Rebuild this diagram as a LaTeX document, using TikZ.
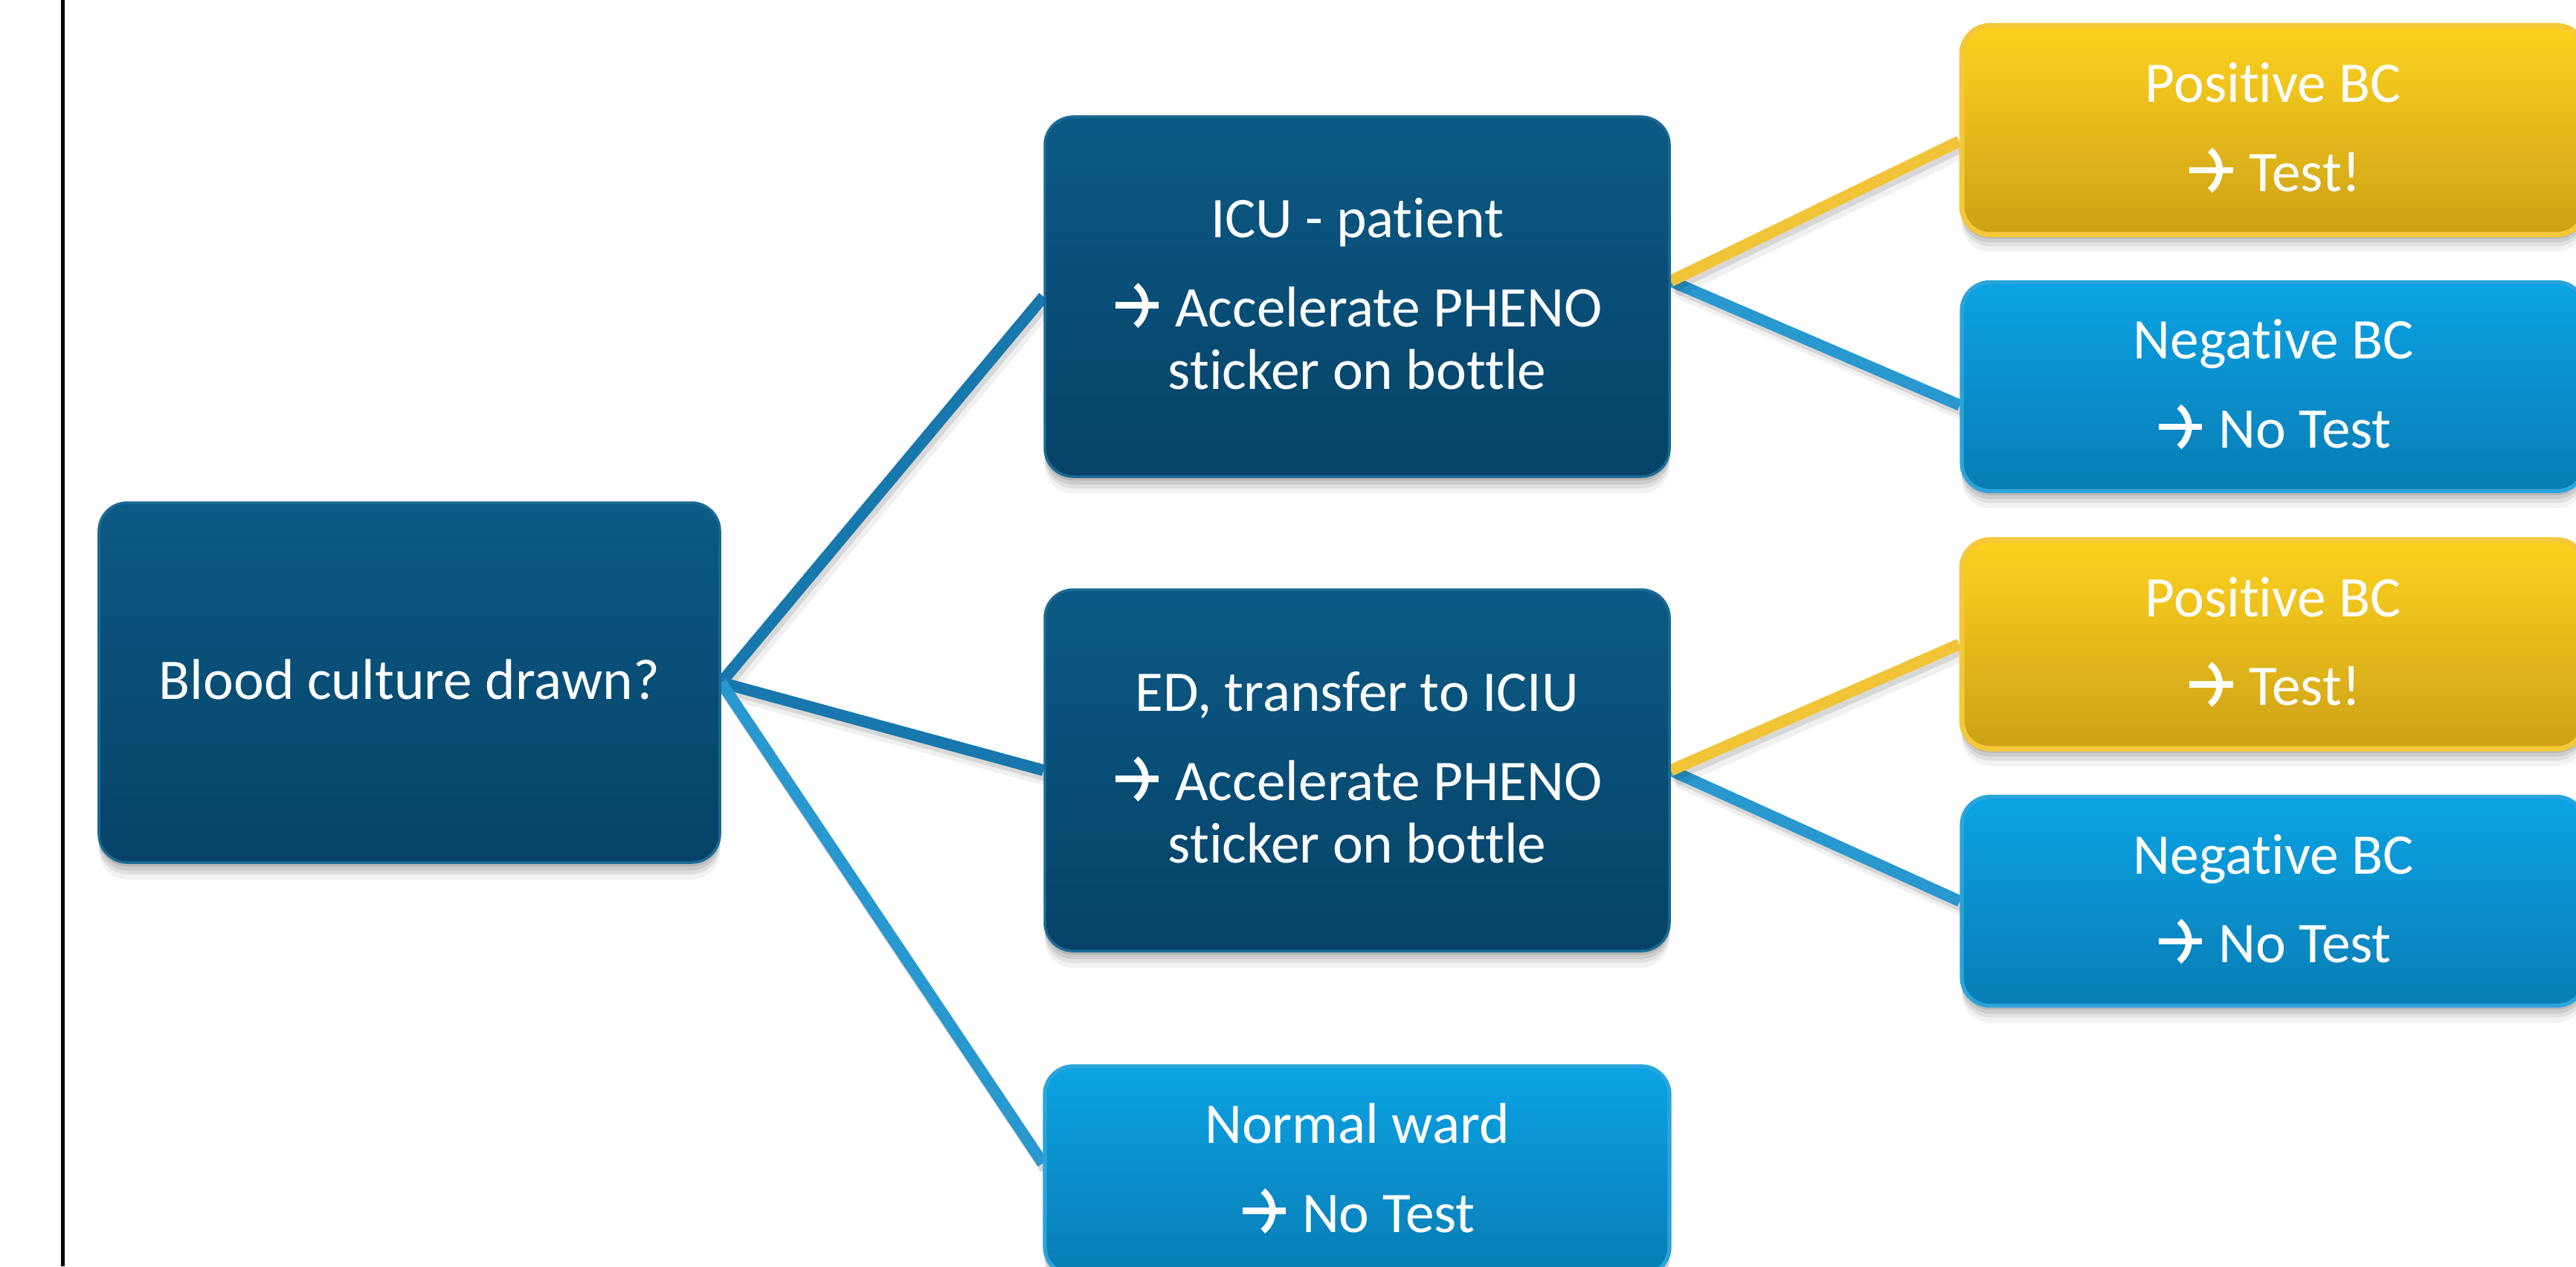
\documentclass[tikz,border=0pt]{standalone}
\usepackage{fontspec}
\setmainfont{Carlito}[Ligatures={NoCommon},RawFeature={-calt}]
\pgfdeclarelayer{bg}
\pgfsetlayers{bg,main}
\definecolor{darkTop}{HTML}{0B5A85}
\definecolor{darkBot}{HTML}{064267}
\definecolor{darkEdge}{HTML}{1B6A94}
\definecolor{yelTop}{HTML}{FDD21F}
\definecolor{yelBot}{HTML}{CDA116}
\definecolor{yelEdge}{HTML}{F5C83A}
\definecolor{bluTop}{HTML}{0BA3E4}
\definecolor{bluBot}{HTML}{097CB4}
\definecolor{bluEdge}{HTML}{2BA4DC}
\definecolor{linkDark}{HTML}{1878AE}
\definecolor{linkLight}{HTML}{2898CF}
\definecolor{linkYel}{HTML}{F0C436}
\newcommand{\myarrow}{\tikz[baseline=0pt]{%
  \draw[white,line width=0.11em,line cap=butt] (0,0.37em) -- (0.76em,0.37em);
  \draw[white,line width=0.11em,line cap=butt,line join=miter] (0.36em,0.72em) -- (0.74em,0.37em) -- (0.36em,0.02em);}}
\newcommand{\dpstrut}{\rule[-0.1em]{0pt}{0.1em}}
\begin{document}
\begin{tikzpicture}[x=1cm,y=1cm,
  softshadow/.style={
    preaction={fill=black,opacity=0.10,transform canvas={yshift=-1.5pt}},
    preaction={fill=black,opacity=0.09,transform canvas={yshift=-3pt}},
    preaction={fill=black,opacity=0.07,transform canvas={yshift=-4.5pt}},
    preaction={fill=black,opacity=0.05,transform canvas={yshift=-6.5pt}}},
  box/.style={rounded corners=0.38cm, align=center, text=white, inner sep=0pt,
    font=\fontsize{22pt}{24pt}\selectfont, softshadow},
  darkbox/.style={box, minimum width=8.4cm, minimum height=4.84cm,
    top color=darkTop, bottom color=darkBot, draw=darkEdge, line width=1pt},
  posbox/.style={box, minimum width=8.38cm, minimum height=2.81cm,
    top color=yelTop, bottom color=yelBot, draw=yelEdge, line width=2pt},
  negbox/.style={box, minimum width=8.38cm, minimum height=2.81cm,
    top color=bluTop, bottom color=bluBot, draw=bluEdge, line width=1.5pt},
  link/.style={line width=4.4pt,
    preaction={draw=black,line width=4.4pt,opacity=0.10,transform canvas={xshift=1pt,yshift=-2pt}},
    preaction={draw=black,line width=4.4pt,opacity=0.06,transform canvas={xshift=2pt,yshift=-4pt}}},
  darklink/.style={link, draw=linkDark},
  lightlink/.style={link, draw=linkLight},
  yellink/.style={link, draw=linkYel}
]
\useasboundingbox (0,0) rectangle (34.64,-17.03);
\begin{pgfonlayer}{bg}
\fill[white] (0,0) rectangle (34.64,-17.03);
\end{pgfonlayer}

\node[darkbox, minimum width=8.35cm] (root) at (5.505,-9.18) {Blood culture drawn?\dpstrut};
\node[darkbox] (icu) at (18.25,-3.99) {ICU - patient\\[10pt]\myarrow{} Accelerate PHENO\\sticker on bottle\dpstrut};
\node[darkbox, minimum height=4.86cm] (ed) at (18.25,-10.36) {ED, transfer to ICIU\\[10pt]\myarrow{} Accelerate PHENO\\sticker on bottle\dpstrut};
\node[negbox, minimum width=8.4cm] (nw) at (18.25,-15.745) {Normal ward\\[10pt]\myarrow{} No Test\dpstrut};
\node[posbox] (pos1) at (30.57,-1.75) {Positive BC\\[10pt]\myarrow{} Test!\dpstrut};
\node[negbox] (neg1) at (30.57,-5.20) {Negative BC\\[10pt]\myarrow{} No Test\dpstrut};
\node[posbox] (pos2) at (30.57,-8.665) {Positive BC\\[10pt]\myarrow{} Test!\dpstrut};
\node[negbox] (neg2) at (30.57,-12.12) {Negative BC\\[10pt]\myarrow{} No Test\dpstrut};

\begin{pgfonlayer}{bg}
\draw[darklink] (root.east) -- (icu.west);
\draw[darklink] (root.east) -- (ed.west);
\draw[lightlink] (root.east) -- ([yshift=0.1cm]nw.west);
\draw[lightlink] ([yshift=0.21cm]icu.east) -- ([yshift=-0.25cm]neg1.west);
\draw[yellink] ([yshift=0.21cm]icu.east) -- ([yshift=-0.15cm]pos1.west);
\draw[lightlink] (ed.east) -- (neg2.west);
\draw[yellink] (ed.east) -- (pos2.west);
\end{pgfonlayer}

\draw[line width=0.05cm, black] (0.845,0) -- (0.845,-17.03);
\end{tikzpicture}
\end{document}
